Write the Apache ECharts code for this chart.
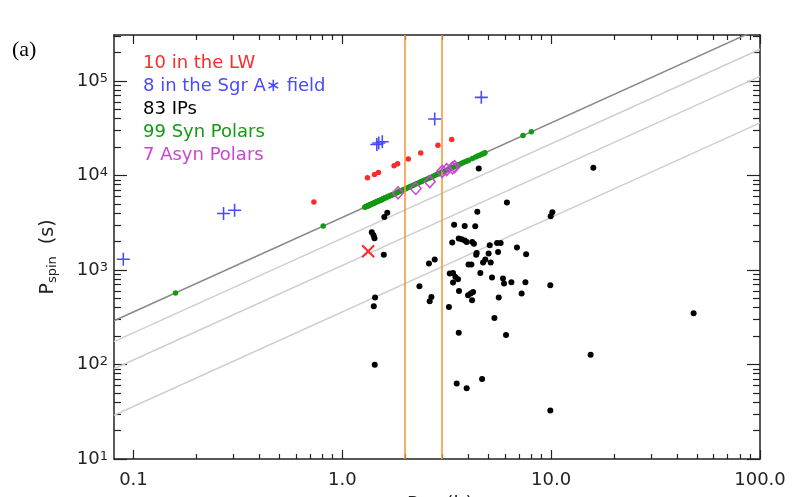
<!DOCTYPE html>
<html><head><meta charset="utf-8">
<script src="https://cdn.jsdelivr.net/npm/echarts@6/dist/echarts.min.js"></script>
<style>html,body{margin:0;padding:0;background:#fff}#c{width:796px;height:497px}</style>
</head><body><div id="c"></div><script>
// ---------- axes ----------
const xRange = [0.0807, 100];
const yRange = [10, 306000];
const xMajor = [0.1, 1, 10, 100];
const xMajorLabels = ['0.1', '1.0', '10.0', '100.0'];
const xMinor = [0.2,0.3,0.4,0.5,0.6,0.7,0.8,0.9,2,3,4,5,6,7,8,9,20,30,40,50,60,70,80,90];
const yMajor = [10, 100, 1000, 10000, 100000];
const yMajorExp = ['1', '2', '3', '4', '5'];
const yMinor = [20,30,40,50,60,70,80,90,200,300,400,500,600,700,800,900,2000,3000,4000,5000,6000,7000,8000,9000,20000,30000,40000,50000,60000,70000,80000,90000,200000,300000];
const periodGap = [2, 3];

// ---------- reference lines Pspin = k * Porb (endpoints) ----------
const syncLine = [[0.0807, 290.5], [100, 360000]];
const ratioLines = [
  [[0.0807, 174.3], [100, 216000]],
  [[0.0807, 90.1], [100, 111600]],
  [[0.0807, 29.05], [100, 36000]]
];

// ---------- data ----------
const lwPorb  = [0.731, 1.32, 1.426, 1.49, 1.77, 1.84, 2.07, 2.375, 2.87, 3.34];
const lwPspin = [5250, 9440, 10250, 10760, 12640, 13280, 14890, 17220, 20800, 24060];
const lwCrossPorb = [1.33];
const lwCrossPspin = [1578];

const sgrPorb  = [0.0894, 0.270, 0.305, 1.463, 1.495, 1.554, 2.77, 4.63];
const sgrPspin = [1298, 3957, 4290, 21200, 21990, 22700, 39500, 67000];

const ipPorb = [4.50,15.92,6.14,4.43,1.642,1.589,9.95,10.13,3.43,3.855,
  4.33,1.384,1.411,1.426,3.36,3.61,3.73,3.856,3.94,4.19,
  4.27,5.08,5.51,5.73,6.86,7.59,4.40,4.376,5.02,5.57,
  1.580,2.60,2.77,4.02,4.15,4.72,4.84,5.135,3.27,3.39,
  3.48,3.58,3.39,4.58,5.21,5.88,5.95,6.45,7.53,2.34,
  3.62,2.62,2.67,3.24,4.00,4.12,4.23,4.18,5.61,7.22,
  9.91,5.35,3.61,6.08,3.53,3.94,4.67,9.91,15.45,48.1,
  1.435,1.415,1.43];
const ipPspin = [11860,12040,5176,4136,4018,3640,3706,4083,3013,2925,
  2904,2507,2331,2167,1950,2151,2114,2048,1980,1980,
  1894,1827,1932,1932,1727,1467,1514,1449,1492,1551,
  1449,1169,1288,1141,1141,1198,1288,1198,916,929,
  843,797,735,929,831,811,718,741,741,672,
  599,466,518,406,540,562,585,477,510,562,
  689,310,217,205,63,56,70,32.6,127,348,
  510,413,99.6];

const synPorb = [0.159,0.81,
  1.28,1.29,1.30,1.31,1.315,1.32,1.33,1.335,1.34,1.35,1.355,1.36,1.37,1.38,1.39,1.40,1.41,1.42,1.43,1.44,1.45,1.46,1.47,1.48,1.49,1.50,1.51,1.52,1.53,1.54,1.55,1.56,1.57,1.58,1.59,1.60,
  1.62,1.64,1.66,1.68,1.70,1.72,1.74,1.76,1.78,1.80,
  1.82,1.85,1.88,1.91,1.94,1.97,
  2.00,2.04,2.08,2.12,2.16,
  2.20,2.25,2.30,2.35,2.40,2.45,2.50,
  2.56,2.62,2.68,2.74,2.80,2.86,2.92,2.98,
  3.04,3.10,3.16,3.22,3.28,3.34,3.40,
  3.47,3.54,3.61,3.68,3.75,3.82,
  3.90,3.98,4.03,
  4.20,4.35,4.45,4.55,4.65,4.75,4.82,
  7.33,8.04];
const synPspin = [572,2916,
  4608,4644,4680,4716,4734,4752,4788,4806,4824,4860,4878,4896,4932,4968,5004,5040,5076,5112,5148,5184,5220,5256,5292,5328,5364,5400,5436,5472,5508,5544,5580,5616,5652,5688,5724,5760,
  5832,5904,5976,6048,6120,6192,6264,6336,6408,6480,
  6552,6660,6768,6876,6984,7092,
  7200,7344,7488,7632,7776,
  7920,8100,8280,8460,8640,8820,9000,
  9216,9432,9648,9864,10080,10296,10512,10728,
  10944,11160,11376,11592,11808,12024,12240,
  12492,12744,12996,13248,13500,13752,
  14040,14328,14508,
  15120,15660,16020,16380,16740,17100,17352,
  26388,28944];

const asynPorb  = [1.849, 2.247, 2.623, 3.01, 3.16, 3.37, 3.45];
const asynPspin = [6540, 7280, 8600, 11040, 11520, 12030, 12390];

const legendItems = ['10 in the LW', '8 in the Sgr A\u2217 field', '83 IPs', '99 Syn Polars', '7 Asyn Polars'];

// ---------- styles ----------
const C = {red:'#ff2b2b', blue:'#4a4aff', black:'#000000', green:'#139a13', magenta:'#cc44d6', axis:'#222222', orange:'#f59a3c'};
const FONT = 'DejaVu Sans';
const zip = (a, b) => a.map((v, i) => [v, b[i]]);
const plusPath = 'path://M0,4.4H10V5.6H0Z M4.4,0H5.6V10H4.4Z';

function xAxisDef(pos, ticks, len, major) {
  return {
    type: 'log', logBase: 10, min: xRange[0], max: xRange[1], position: pos,
    axisLine: {show: major, onZero: false, lineStyle: {color: C.axis, width: 1.5}},
    axisTick: {show: true, inside: true, length: len, customValues: ticks, lineStyle: {color: C.axis, width: 1.2}},
    axisLabel: (major && pos === 'bottom') ? {
      show: true, customValues: xMajor, margin: 12, color: C.axis, fontSize: 18, fontFamily: FONT,
      formatter: v => { const i = xMajor.findIndex(m => Math.abs(Math.log10(m) - Math.log10(v)) < 1e-6); return i >= 0 ? xMajorLabels[i] : ''; }
    } : {show: false},
    splitLine: {show: false}, minorTick: {show: false}
  };
}
function yAxisDef(pos, ticks, len, major) {
  return {
    type: 'log', logBase: 10, min: yRange[0], max: yRange[1], position: pos,
    axisLine: {show: major, onZero: false, lineStyle: {color: C.axis, width: 1.5}},
    axisTick: {show: true, inside: true, length: len, customValues: ticks, lineStyle: {color: C.axis, width: 1.2}},
    axisLabel: (major && pos === 'left') ? {
      show: true, customValues: yMajor, margin: 6, color: C.axis, fontFamily: FONT,
      formatter: v => { const i = yMajor.findIndex(m => Math.abs(Math.log10(m) - Math.log10(v)) < 1e-6); return i >= 0 ? '{a|10}{b|' + yMajorExp[i] + '}' : ''; },
      rich: {a: {fontSize: 18, lineHeight: 18, fontFamily: FONT, color: C.axis},
             b: {fontSize: 13, lineHeight: 8, verticalAlign: 'top', fontFamily: FONT, color: C.axis}}
    } : {show: false},
    splitLine: {show: false}, minorTick: {show: false}
  };
}

const chart = echarts.init(document.getElementById('c'), null, {renderer: 'canvas'});
const lineSeries = (data, color, w) => ({
  type: 'line', data: data, showSymbol: false, symbol: 'none', silent: true, z: 1,
  lineStyle: {color: color, width: w}, xAxisIndex: 0, yAxisIndex: 0, animation: false
});

const option = {
  animation: false,
  backgroundColor: '#ffffff',
  grid: {left: 114, right: 36, top: 35, bottom: 38, containLabel: false},
  xAxis: [
    xAxisDef('bottom', xMajor, 9, true),
    xAxisDef('bottom', xMinor, 5, false),
    xAxisDef('top', xMajor, 9, true),
    xAxisDef('top', xMinor, 5, false)
  ],
  yAxis: [
    yAxisDef('left', yMajor, 13, true),
    yAxisDef('left', yMinor, 7, false),
    yAxisDef('right', yMajor, 13, true),
    yAxisDef('right', yMinor, 7, false)
  ],
  series: [
    lineSeries(ratioLines[0], '#cfcfcf', 1.5),
    lineSeries(ratioLines[1], '#cfcfcf', 1.5),
    lineSeries(ratioLines[2], '#cfcfcf', 1.5),
    Object.assign(lineSeries(syncLine, '#8a8a8a', 1.5), {
      markLine: {silent: true, symbol: 'none', label: {show: false},
        lineStyle: {color: C.orange, width: 1.6, type: 'solid'},
        data: periodGap.map(v => ({xAxis: v}))}
    }),
    {name: '99 Syn Polars', type: 'scatter', data: zip(synPorb, synPspin), symbol: 'circle', symbolSize: 5.5, itemStyle: {color: C.green, opacity: 1}, z: 3},
    {name: '83 IPs', type: 'scatter', data: zip(ipPorb, ipPspin), symbol: 'circle', symbolSize: 6, itemStyle: {color: C.black, opacity: 1}, z: 3},
    {name: '10 in the LW', type: 'scatter', data: zip(lwPorb, lwPspin), symbol: 'circle', symbolSize: 5.5, itemStyle: {color: C.red, opacity: 1}, z: 4},
    {name: 'LW cross', type: 'scatter', data: zip(lwCrossPorb, lwCrossPspin), symbol: plusPath, symbolRotate: 45, symbolSize: 17, itemStyle: {color: C.red, opacity: 1}, z: 4},
    {name: '8 in the Sgr A* field', type: 'scatter', data: zip(sgrPorb, sgrPspin), symbol: plusPath, symbolSize: 13, itemStyle: {color: C.blue, opacity: 1}, z: 5},
    {name: '7 Asyn Polars', type: 'scatter', data: zip(asynPorb, asynPspin), symbol: 'diamond', symbolSize: [11, 12],
      itemStyle: {color: 'rgba(0,0,0,0)', borderColor: C.magenta, borderWidth: 1.5, opacity: 1}, z: 6}
  ],
  graphic: [
    {type: 'text', x: 12, y: 50, style: {text: '(a)', fill: '#000', fontSize: 22, fontFamily: 'Liberation Serif', verticalAlign: 'middle'}},
    ...legendItems.map((t, i) => ({type: 'text', x: 143, y: 63 + i * 23.1,
      style: {text: t, fill: [C.red, C.blue, C.black, C.green, C.magenta][i], fontSize: 18, fontFamily: FONT, verticalAlign: 'middle'}})),
    {type: 'text', x: 48, y: 257, rotation: Math.PI / 2,
      style: {text: '{p|P}{s|spin}{p|  (s)}', align: 'center', verticalAlign: 'middle',
        rich: {p: {fontSize: 19, fontFamily: FONT, fill: C.axis, lineHeight: 22},
               s: {fontSize: 13, fontFamily: FONT, fill: C.axis, verticalAlign: 'bottom', lineHeight: 14}}}},
    {type: 'text', x: 440, y: 494, style: {text: '{p|P}{s|orb}{p| (h)}', align: 'center', verticalAlign: 'top',
        rich: {p: {fontSize: 19, fontFamily: FONT, fill: C.axis, lineHeight: 22},
               s: {fontSize: 13, fontFamily: FONT, fill: C.axis, verticalAlign: 'bottom', lineHeight: 14}}}}
  ]
};
chart.setOption(option);
</script></body></html>
